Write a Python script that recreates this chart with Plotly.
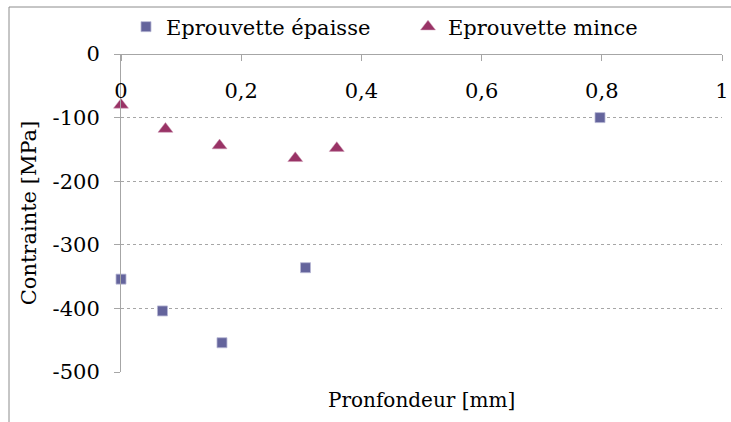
import plotly.graph_objects as go

# Depth (mm) and residual stress (MPa) for both specimens
profondeur_epaisse = [0.0, 0.069, 0.168, 0.307, 0.797]
contrainte_epaisse = [-354, -404, -454, -336, -100]

profondeur_mince = [0.0, 0.074, 0.164, 0.290, 0.359]
contrainte_mince = [-80, -118, -144, -164, -148]

x_ticks = [0, 0.2, 0.4, 0.6, 0.8, 1]
x_ticktext = ["0", "0,2", "0,4", "0,6", "0,8", "1"]
y_ticks = [0, -100, -200, -300, -400, -500]
y_ticktext = ["0", "-100", "-200", "-300", "-400", "-500"]

W, H = 731, 422
ML, MR, MT, MB = 121, 9, 54, 50
pw, ph = W - ML - MR, H - MT - MB

FONT = "DejaVu Serif"
FS = 21
AXIS_GREY = "#a6a6a6"

fig = go.Figure()
fig.add_trace(go.Scatter(
    x=profondeur_epaisse, y=contrainte_epaisse, mode="markers",
    name="Eprouvette épaisse", cliponaxis=False,
    marker=dict(symbol="square", size=10, color="#64649c",
                line=dict(color="#b8b8d4", width=0.8)),
))
fig.add_trace(go.Scatter(
    x=profondeur_mince, y=contrainte_mince, mode="markers",
    name="Eprouvette mince", cliponaxis=False,
    marker=dict(symbol="triangle-up", size=13, color="#993366",
                line=dict(color="#cc99b3", width=0.5)),
))

# outer chart frame
fig.add_shape(
    type="rect", xref="paper", yref="paper",
    x0=(9 - ML) / pw, x1=1 + 30 / pw,
    y0=-(60) / ph, y1=1 + (MT - 7) / ph,
    line=dict(color="#8c8c8c", width=1), fillcolor="rgba(0,0,0,0)",
    layer="below",
)

fig.add_annotation(
    text="Pronfondeur [mm]", xref="paper", yref="paper",
    x=0.5, y=-(400 - (MT + ph)) / ph, xanchor="center", yanchor="middle",
    showarrow=False, font=dict(family=FONT, size=20, color="#000000"),
)

fig.update_layout(
    width=W, height=H,
    margin=dict(l=ML, r=MR, t=MT, b=MB, autoexpand=False),
    paper_bgcolor="white", plot_bgcolor="white",
    font=dict(family=FONT, size=FS, color="#000000"),
    showlegend=True,
    legend=dict(
        orientation="h", x=(126 - ML) / pw, xanchor="left",
        y=1 + (MT - 27) / ph, yanchor="middle",
        entrywidth=237, entrywidthmode="pixels",
        font=dict(family=FONT, size=FS, color="#000000"),
        bgcolor="rgba(0,0,0,0)", itemclick=False,
    ),
    xaxis=dict(
        range=[0, 1], tickvals=x_ticks, ticktext=x_ticktext,
        anchor="free", position=1, side="bottom",
        showline=True, linecolor=AXIS_GREY, linewidth=1,
        ticks="outside", ticklen=6, tickcolor=AXIS_GREY,
        ticklabelstandoff=12,
        showgrid=False, zeroline=False, automargin=False,
    ),
    yaxis=dict(
        range=[-500, 0], tickvals=y_ticks, ticktext=y_ticktext,
        showline=True, linecolor=AXIS_GREY, linewidth=1,
        ticks="outside", ticklen=6, tickcolor=AXIS_GREY,
        ticklabelstandoff=10,
        showgrid=True, gridcolor="#a6a6a6", griddash="3px,3px", gridwidth=1,
        zeroline=False, automargin=False,
        title=dict(text="Contrainte [MPa]", standoff=10,
                   font=dict(family=FONT, size=FS)),
    ),
)

fig.write_html("out.html")
